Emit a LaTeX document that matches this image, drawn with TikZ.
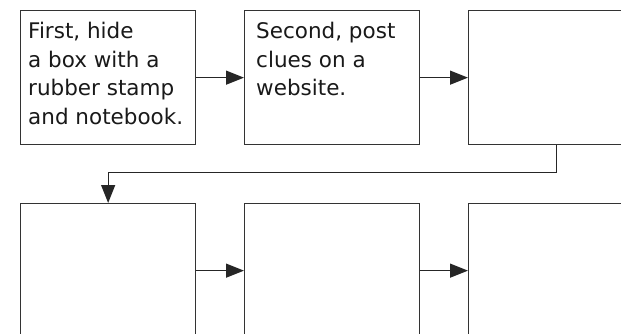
\documentclass[tikz,border=0pt]{standalone}
\usepackage{fontspec}
\setmainfont{DejaVu Sans}
\usetikzlibrary{arrows.meta}
\begin{document}
\begin{tikzpicture}[x=1pt,y=-1pt,
  box/.style={draw=black!80,line width=1.3pt,rectangle,minimum width=175pt,minimum height=134pt,anchor=north west,inner sep=0pt},
  txt/.style={anchor=north west,inner sep=0pt,align=left,text=black!90,font=\fontsize{21.5}{28.7}\selectfont},
  link/.style={draw=black!85,line width=1.3pt,-{Triangle[length=18pt,width=14pt]}}]
\useasboundingbox (0,0) rectangle (621,334);
\clip (0,0) rectangle (621,334);
\node[box] (b1) at (20,10) {};
\node[box] (b2) at (244,10) {};
\node[box] (b3) at (468,10) {};
\node[box] (b4) at (20,203) {};
\node[box] (b5) at (244,203) {};
\node[box] (b6) at (468,203) {};
\node[txt] (t1) at ([shift={(8,12)}]b1.north west) {First, hide\\a box with a\\rubber stamp\\and notebook.};
\node[txt] (t2) at ([shift={(12,12)}]b2.north west) {Second, post\\clues on a\\website.};
\draw[link] (b1.east) -- (b2.west);
\draw[link] (b2.east) -- (b3.west);
\draw[link] (b4.east) -- (b5.west);
\draw[link] (b5.east) -- (b6.west);
\draw[link] (b3.south) -- ++(0,27) -| (b4.north);
\end{tikzpicture}
\end{document}
